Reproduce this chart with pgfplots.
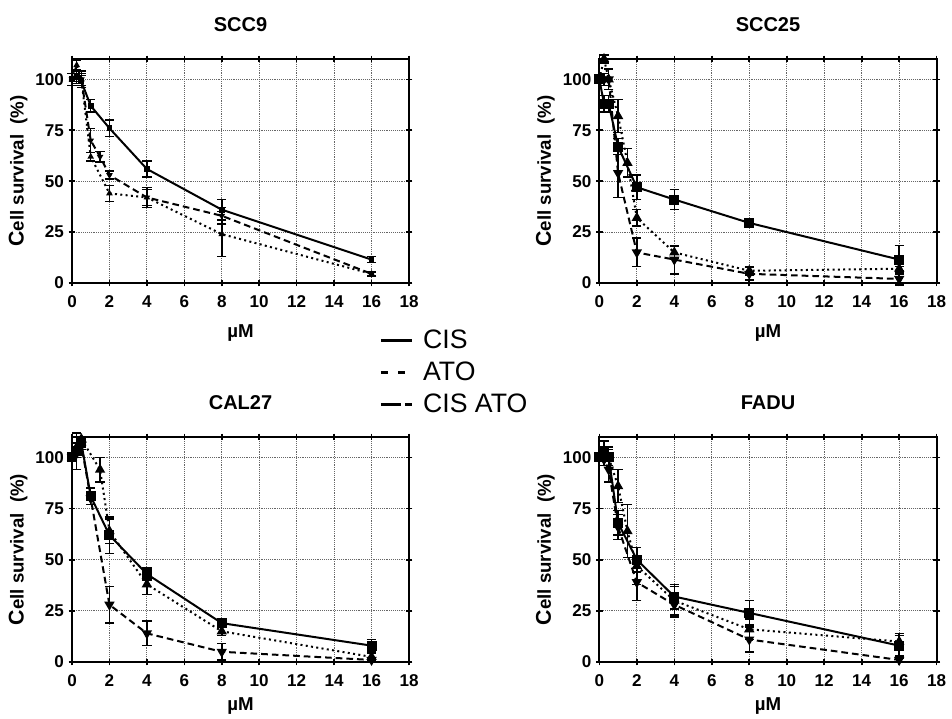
\documentclass[border=0pt]{standalone}
\usepackage{fontspec}
\setmainfont{Liberation Sans}
\usepackage{pgfplots}
\pgfplotsset{compat=1.18}

% 1 px of the reference = 0.75pt
\pgfplotsset{
  cellax/.style={
    scale only axis, width=252.75pt, height=168pt,
    xmin=0, xmax=18, ymin=0, ymax=110,
    xtick={0,2,4,6,8,10,12,14,16,18}, ytick={0,25,50,75,100},
    xticklabels={0,2,4,6,8,10,12,14,16,18},
    grid=major, grid style={densely dotted, black!60, line width=0.7pt},
    axis line style={line width=1.5pt},
    tick style={line width=1.2pt, black}, tick align=center, major tick length=5pt,
    ticklabel style={font=\fontsize{12.8}{15}\selectfont\bfseries},
    xticklabel style={yshift=-3pt, text height=9.5pt, text depth=0pt, anchor=north},
    /pgf/number format/assume math mode=true,
    xlabel={µM}, ylabel={{\fontsize{16}{16}\selectfont C}ell survival\ \ (\%)},
    title style={font=\fontsize{15}{18}\selectfont\bfseries, at={(0.5,1)}, anchor=center, yshift=20pt},
    every axis x label/.style={at={(axis description cs:0.5,-0.222)}, anchor=center,
      font=\fontsize{14}{16}\selectfont\bfseries},
    every axis y label/.style={at={(axis description cs:-0.16,0.5)}, rotate=90, anchor=center,
      font=\fontsize{14}{16}\selectfont\bfseries},
    clip=false,
  },
  lowrow/.style={height=168.75pt,
    every axis x label/.style={at={(axis description cs:0.5,-0.197)}, anchor=center,
      font=\fontsize{14}{16}\selectfont\bfseries}},
  errs/.style={error bars/.cd, y dir=both, y explicit,
    error bar style={line width=1.1pt, solid},
    error mark options={rotate=90, mark size=3.5pt, line width=1.1pt, solid},
    /pgfplots/.cd},
  cis/.style={black, line width=1.5pt, solid, mark=square*, mark size=#1, mark options={solid}, errs},
  ato/.style={black, line width=1.5pt, dash pattern=on 1.5pt off 2.5pt, mark=triangle*, mark size=#1, mark options={solid}, errs},
  cisato/.style={black, line width=1.5pt, dash pattern=on 5pt off 3pt, mark=triangle*, mark size=#1, mark options={solid, rotate=180}, errs},
}

\begin{document}
\begin{tikzpicture}
\path[use as bounding box] (0,0) rectangle (714pt,538.5pt);

% ---------------- SCC9 ----------------
\begin{axis}[cellax, at={(54pt,326.25pt)}, anchor=south west, title={SCC9},
  legend style={at={(axis description cs:0.911,-0.205)}, anchor=north west,
    draw=none, fill=none, inner sep=0pt, row sep=9.5pt, column sep=7.5pt,
    font=\fontsize{20}{22}\selectfont,
    nodes={inner sep=0pt, text height=14.5pt, text depth=0pt}},
  legend cell align=left]
\addlegendimage{legend image code/.code={\draw[black, line width=2.4pt] (0pt,-1pt) -- (23pt,-1pt);}}
\addlegendentry{CIS}
\addlegendimage{legend image code/.code={\draw[black, line width=2.4pt, dash pattern=on 5pt off 8pt] (0pt,-1pt) -- (23pt,-1pt);}}
\addlegendentry{ATO}
\addlegendimage{legend image code/.code={\draw[black, line width=2.4pt, dash pattern=on 15pt off 3pt] (0pt,-1pt) -- (23pt,-1pt);}}
\addlegendentry{CIS ATO}
\addplot[cis=1.4pt] coordinates {(0,100) +- (0,3) (0.25,101) +- (0,2) (0.5,99) +- (0,3) (1,87) +- (0,3) (2,76) +- (0,4) (4,56) +- (0,4) (8,36) +- (0,5) (16,11.5) +- (0,1.5)};
\addplot[ato=1.4pt] coordinates {(0,100) +- (0,3) (0.25,107) +- (0,2.5) (0.5,100) +- (0,4) (1,62) +- (0,2) (2,44) +- (0,4) (4,42) +- (0,5) (8,24) +- (0,11) (16,4.5) +- (0,1)};
\addplot[cisato=1.4pt] coordinates {(0,100) +- (0,3) (0.25,101) +- (0,3) (0.5,100) +- (0,3) (1,70) +- (0,6) (1.5,62) +- (0,2.5) (2,53) +- (0,2) (4,42) +- (0,4) (8,33) +- (0,4) (16,4.5) +- (0,1)};
\end{axis}

% ---------------- SCC25 ----------------
\begin{axis}[cellax, width=253pt, at={(449.5pt,326.25pt)}, anchor=south west, title={SCC25}]
\addplot[cis=3pt] coordinates {(0,100) +- (0,0) (0.25,88) +- (0,4) (0.5,88) +- (0,4) (1,67) +- (0,4) (2,47) +- (0,6) (4,41) +- (0,5) (8,29.5) +- (0,2) (16,11.5) +- (0,7)};
\addplot[ato=3pt] coordinates {(0,100) +- (0,0) (0.25,110) +- (0,2) (0.5,100) +- (0,5) (1,82) +- (0,8) (1.5,59) +- (0,7) (2,32) +- (0,4) (4,15) +- (0,3) (8,6) +- (0,2) (16,7) +- (0,1)};
\addplot[cisato=3pt] coordinates {(0,100) +- (0,0) (0.25,100) +- (0,3) (0.5,100) +- (0,5) (1,54) +- (0,12) (2,15) +- (0,7) (4,11.5) +- (0,7) (8,4.5) +- (0,3) (16,2) +- (0,3)};
\end{axis}

% ---------------- CAL27 ----------------
\begin{axis}[cellax, lowrow, at={(54pt,42pt)}, anchor=south west, title={CAL27}]
\addplot[cis=3pt] coordinates {(0,100) +- (0,0) (0.25,103) +- (0,9) (0.5,107) +- (0,3) (1,81) +- (0,4) (2,62) +- (0,9) (4,43) +- (0,3) (8,19) +- (0,2) (16,8) +- (0,3)};
\addplot[ato=3pt] coordinates {(0,100) +- (0,0) (0.25,105) +- (0,2) (0.5,109) +- (0,1) (1.5,94) +- (0,6) (2,64) +- (0,6) (4,38) +- (0,5) (8,15) +- (0,2) (16,2.5) +- (0,2)};
\addplot[cisato=3pt] coordinates {(0,100) +- (0,0) (0.25,102) +- (0,2) (0.5,106) +- (0,2) (1,80) +- (0,3) (2,28) +- (0,9) (4,14) +- (0,6) (8,5) +- (0,4) (16,1) +- (0,1)};
\end{axis}

% ---------------- FADU ----------------
\begin{axis}[cellax, lowrow, width=253pt, at={(449.5pt,42pt)}, anchor=south west, title={FADU}]
\addplot[cis=3pt] coordinates {(0,100) +- (0,0) (0.25,103) +- (0,5) (0.5,100) +- (0,5) (1,68) +- (0,6) (2,50) +- (0,6) (4,32) +- (0,6) (8,24) +- (0,6) (16,8) +- (0,5)};
\addplot[ato=3pt] coordinates {(0,100) +- (0,0) (0.25,101) +- (0,3) (0.5,100) +- (0,4) (1,86) +- (0,8) (1.5,64) +- (0,13) (2,47) +- (0,9) (4,30) +- (0,7) (8,16) +- (0,5) (16,10) +- (0,4)};
\addplot[cisato=3pt] coordinates {(0,100) +- (0,0) (0.25,99) +- (0,3) (0.5,94) +- (0,6) (1,66) +- (0,6) (2,39) +- (0,9) (4,28) +- (0,6) (8,11) +- (0,6) (16,1) +- (0,1)};
\end{axis}
\end{tikzpicture}
\end{document}
